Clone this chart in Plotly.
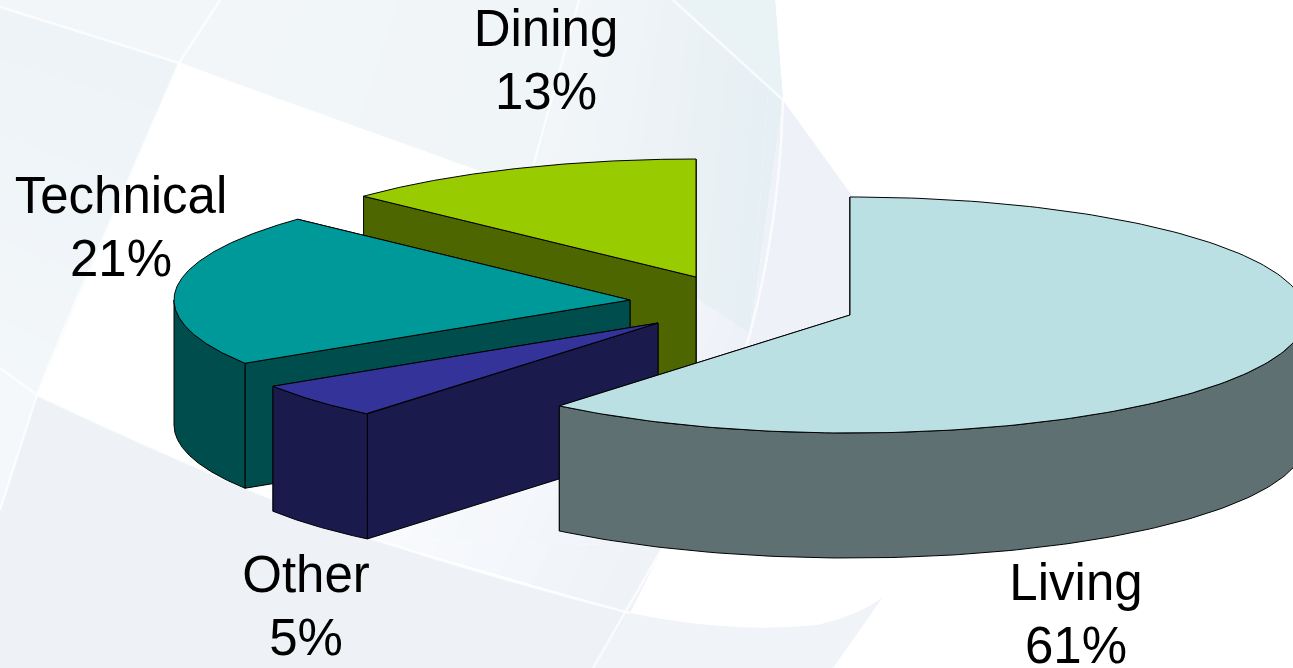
import numpy as np
import plotly.graph_objects as go

# Slice data, clockwise from twelve o'clock
categories = ["Living", "Other", "Technical", "Dining"]
shares = [61, 5, 21, 13]
top_colors = ["#BBE0E3", "#333399", "#009999", "#99CC00"]
wall_colors = ["#5E7072", "#1A1A4D", "#004D4D", "#4D6600"]

# Pie geometry in pixels: ellipse radii, extrusion depth, and each exploded slice's apex
RX, RY, DEPTH = 456, 118, 125
apex = {"Living": (850, 315), "Other": (658, 323), "Technical": (630, 300), "Dining": (696, 277)}
label_pos = {"Living": (1076, 587), "Other": (306, 579), "Technical": (121, 200), "Dining": (546, 33)}
LINE_GAP = 63
FONT = "Liberation Sans, Arial, sans-serif"

W, H = 1293, 668


def rim(center, deg):
    t = np.radians(deg)
    return center[0] + RX * np.sin(t), center[1] - RY * np.cos(t)


def poly(fig, xs, ys, color):
    fig.add_trace(go.Scatter(
        x=list(xs), y=list(ys), mode="lines", fill="toself", fillcolor=color,
        line=dict(color="#000000", width=1), hoverinfo="skip", showlegend=False))


def draw_slice(fig, name, start, end, top, wall):
    c = apex[name]
    # cut faces, rear one first so the nearer face overlaps it
    for deg in sorted([start, end], key=lambda d: rim(c, d)[1]):
        ex, ey = rim(c, deg)
        poly(fig, [c[0], ex, ex, c[0], c[0]], [c[1], ey, ey + DEPTH, c[1] + DEPTH, c[1]], wall)
    # outer wall: only the part of the rim that faces the viewer
    lo, hi = max(start, 90), min(end, 270)
    if hi > lo:
        a = np.linspace(lo, hi, 120)
        rx, ry = rim(c, a)
        poly(fig, np.r_[rx, rx[::-1], rx[0]], np.r_[ry, ry[::-1] + DEPTH, ry[0]], wall)
    # top face
    a = np.linspace(start, end, 200)
    rx, ry = rim(c, a)
    poly(fig, np.r_[c[0], rx, c[0]], np.r_[c[1], ry, c[1]], top)


def mix(c0, c1, t):
    return "rgb(%d,%d,%d)" % tuple(round(a + (b - a) * t) for a, b in zip(c0, c1))


def ramp(tl, bl, tr, br, c0, c1, n=14):
    # quad filled in narrow strips to give a soft shading from one edge to the other
    out = []
    for i in range(n):
        t0, t1 = i / n, min((i + 1.15) / n, 1)
        p = [np.add(tl, np.subtract(tr, tl) * t0), np.add(tl, np.subtract(tr, tl) * t1),
             np.add(bl, np.subtract(br, bl) * t1), np.add(bl, np.subtract(br, bl) * t0)]
        path = "M" + " L".join(f"{x:.1f},{y:.1f}" for x, y in p) + " Z"
        out.append((path, mix(c0, c1, (i + 0.5) / n)))
    return out


def backdrop():
    # pale globe panels and the white meridians crossing them
    panels = [("M0,0 L220,0 L179,63 L0,7 Z", "#F2F6F8")]
    panels += ramp((0, 7), (179, 63), (0, 368), (37, 395), (237, 243, 247), (243, 247, 250))
    panels += [
        ("M0,368 L37,395 L0,510 Z", "#F4F8FB"),
        ("M37,395 Q200,472 367,537 Q500,580 630,613 L593,668 L0,668 L0,510 Z", "#EEF2F6"),
        ("M630,613 Q733,634 817,625 Q860,615 883,597 L833,668 L593,668 Z", "#F0F3F7"),
        ("M775,0 L783,100 L750,334 Z", "#E6EFF3"),
        ("M783,100 L853,197 L851,420 L690,440 L750,334 Z", "#EEF2F8"),
    ]
    panels += ramp((220, 0), (179, 63), (579, 0), (533, 190), (242, 246, 249), (240, 245, 248), 4)
    panels += ramp((579, 0), (533, 190), (775, 0), (750, 334), (242, 246, 249), (230, 239, 243))
    panels += [("M673,0 L775,0 L783,100 Z", "#E9F3F6")]
    panels += ramp((533, 190), (367, 537), (750, 334), (663, 547), (249, 251, 253), (238, 242, 248))
    panels += ramp((367, 537), (367, 537), (663, 547), (630, 613), (249, 251, 253), (238, 242, 248), 8)
    lines = [
        "M0,7 L179,63 L458,170",
        "M220,0 L179,63 L62,333 L37,395 L0,510",
        "M579,0 L533,167",
        "M673,0 L783,100",
        "M783,100 Q780,220 750,334 Q715,450 663,547 L593,668",
        "M0,368 L37,395 Q200,472 367,537 Q500,580 630,613",
    ]
    shapes = [dict(type="path", path=p, fillcolor=col, line=dict(width=0), layer="below",
                   xref="x", yref="y") for p, col in panels]
    shapes += [dict(type="path", path=p, line=dict(color="rgba(255,255,255,0.7)", width=2.5), layer="below",
                    xref="x", yref="y") for p in lines]
    return shapes


fig = go.Figure()

# Cumulative angle of every slice
edges = np.cumsum([0] + shares) * 3.6
spans = {n: (edges[i], edges[i + 1]) for i, n in enumerate(categories)}

# Back to front
for name in ["Dining", "Technical", "Other", "Living"]:
    i = categories.index(name)
    draw_slice(fig, name, *spans[name], top_colors[i], wall_colors[i])

fig.add_trace(go.Scatter(
    x=[label_pos[n][0] for n in categories],
    y=[label_pos[n][1] for n in categories],
    text=categories, mode="text", textposition="middle center",
    textfont=dict(family=FONT, size=51, color="#000000"),
    hoverinfo="skip", showlegend=False))
fig.add_trace(go.Scatter(
    x=[label_pos[n][0] for n in categories],
    y=[label_pos[n][1] + LINE_GAP for n in categories],
    text=[f"{v}%" for v in shares], mode="text", textposition="middle center",
    textfont=dict(family=FONT, size=51, color="#000000"),
    hoverinfo="skip", showlegend=False))

fig.update_layout(
    width=W, height=H, margin=dict(l=0, r=0, t=0, b=0),
    paper_bgcolor="#FFFFFF", plot_bgcolor="#FFFFFF",
    xaxis=dict(range=[0, W], visible=False, fixedrange=True),
    yaxis=dict(range=[H, 0], visible=False, fixedrange=True),
    shapes=backdrop(),
)

fig.write_html("out.html", config={"displayModeBar": False})
